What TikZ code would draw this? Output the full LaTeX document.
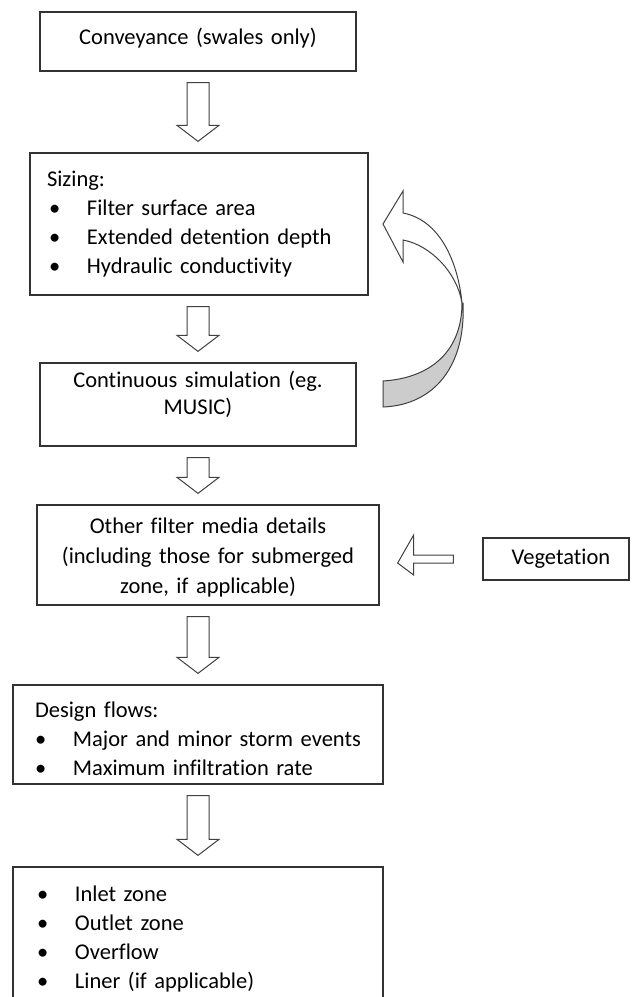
\documentclass[tikz,border=0pt]{standalone}
\usepackage{fontspec}
\setmainfont{Carlito}[Ligatures=CommonOff]
\usepackage{tikz}
\usetikzlibrary{calc}
\definecolor{boxline}{rgb}{0.2,0.2,0.2}
\definecolor{backside}{rgb}{0.8,0.8,0.8}

\newcommand{\itm}{\makebox[40pt][l]{\hspace{2pt}\textbullet}}
\newcommand{\lift}[1]{\rule[-#1]{0pt}{#1}}% deeper last line, text sits higher
\newcommand{\drop}[1]{\rule{0pt}{#1}}% taller first line, text sits lower

\begin{document}
\begin{tikzpicture}[x=1pt, y=-1pt,
		box/.style={draw=boxline, line width=1.3pt, inner sep=0pt, font=\fontsize{22.5}{29}\selectfont},
		blockarrow/.style={draw=black!75, line width=1pt, fill=white, line join=miter}]
	\clip (0,0) rectangle (632,997);
	
	\node[box, minimum width=316, minimum height=59, text width=300, align=center] (conv) at (198,41.5)
	{Conveyance (swales only)\lift{11pt}};
	
	\node[box, minimum width=338, minimum height=142, text width=304, align=left] (sizing) at (199,224)
	{Sizing:\\
		\itm Filter surface area\\
		\itm Extended detention depth\\
		\itm Hydraulic conductivity};
	
	\node[box, minimum width=316, minimum height=83, text width=300, align=center] (sim) at (198,404.5)
	{Continuous simulation (eg.\\[-2pt] MUSIC)\lift{24pt}};
	
	\node[box, minimum width=342, minimum height=100, text width=326, align=center] (other) at (208,555)
	{\drop{20pt}Other filter media details\\[1pt] (including those for submerged\\[1pt] zone, if applicable)};
	
	\node[box, minimum width=146, minimum height=42] (veg) at (556,559) {\hspace{10pt}Vegetation};
	
	\node[box, minimum width=370, minimum height=99, text width=326, align=left] (design) at (198,734.5)
	{\drop{24pt}Design flows:\\
		\hspace{-2pt}\itm Major and minor storm events\\
		\hspace{-2pt}\itm Maximum infiltration rate};
	
	\node[box, minimum width=370, minimum height=143, text width=326, align=left] (zones) at (198,938.5)
	{\itm Inlet zone\\
		\itm Outlet zone\\
		\itm Overflow\\
		\itm Liner (if applicable)};
	
	% block arrows between the boxes
	\foreach \a/\b in {conv/sizing, sizing/sim, sim/other, other/design, design/zones}
	\draw[blockarrow] let \p1=(\a.south), \p2=(\b.north) in
	(187pt,\y1-11pt) -- (187pt,\y2+27pt) -- (177pt,\y2+27pt) -- (198pt,\y2+11pt)
	-- (219pt,\y2+27pt) -- (209pt,\y2+27pt) -- (209pt,\y1-11pt) -- cycle;
	
	\draw[blockarrow] let \p1=(veg.west), \p2=(other.east) in
	(\x1-29pt,\y1+4pt) -- (\x2+34pt,\y1+4pt) -- (\x2+34pt,\y1+24pt) -- (\x2+18pt,\y1+4pt-8pt)
	-- (\x2+34pt,\y1-16pt) -- (\x2+34pt,\y1-4pt) -- (\x1-29pt,\y1-4pt) -- cycle;
	
	% curved arrow back to the sizing box
	\filldraw[draw=black!75, line width=1pt, fill=backside]
	(462,303) .. controls (462,350) and (432,378) .. (383,381) -- (383,407)
	.. controls (435,405) and (466,365) .. (463,303) -- cycle;
	\filldraw[draw=black!75, line width=1pt, fill=white, line join=miter]
	(462,303) .. controls (458,262) and (440,220) .. (403,213) -- (403,191) -- (383,224)
	-- (403,262) -- (403,240) .. controls (430,245) and (457,272) .. (462,303) -- cycle;
\end{tikzpicture}
\end{document}
